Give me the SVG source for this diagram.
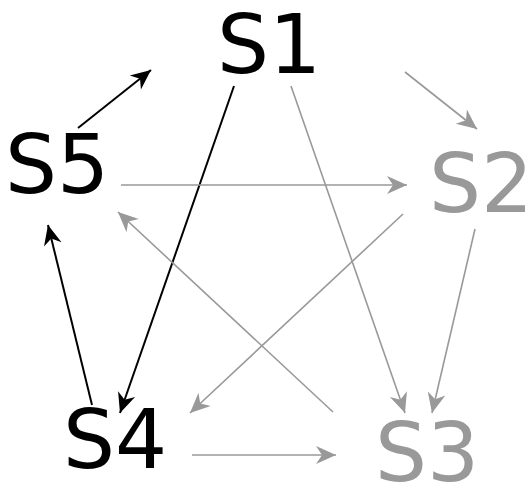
<svg xmlns="http://www.w3.org/2000/svg" width="528" height="487" viewBox="0 0 528 487">
<style>
.lbl{font-family:"DejaVu Sans",sans-serif;font-size:82px;text-anchor:middle}
.blk{fill:#000}
.gry{fill:#999}
.eb{stroke:#000;stroke-width:2;fill:none}
.eg{stroke:#999;stroke-width:1.6;fill:none}
</style>
<defs>
<marker id="ab" markerUnits="userSpaceOnUse" markerWidth="26" markerHeight="22" viewBox="-22 -11 26 22" refX="0" refY="0" orient="auto">
<path d="M0,0 L-20,-9 L-14,0 L-20,9 Z" fill="#000"/>
</marker>
<marker id="ag" markerUnits="userSpaceOnUse" markerWidth="26" markerHeight="22" viewBox="-22 -11 26 22" refX="0" refY="0" orient="auto">
<path d="M0,0 L-20,-9 L-14,0 L-20,9 Z" fill="#999"/>
</marker>
</defs>
<g id="connectors">
<line class="eb" x1="78" y1="128" x2="151" y2="70" marker-end="url(#ab)"/>
<line class="eb" x1="234" y1="86" x2="120" y2="413" marker-end="url(#ab)"/>
<line class="eb" x1="92" y1="405" x2="48" y2="225" marker-end="url(#ab)"/>
<line class="eg" x1="405" y1="72" x2="477" y2="129" marker-end="url(#ag)"/>
<line class="eg" x1="121" y1="185" x2="407" y2="185" marker-end="url(#ag)"/>
<line class="eg" x1="291" y1="86" x2="405" y2="413" marker-end="url(#ag)"/>
<line class="eg" x1="475" y1="229" x2="432" y2="413" marker-end="url(#ag)"/>
<line class="eg" x1="403" y1="214" x2="190" y2="413" marker-end="url(#ag)"/>
<line class="eg" x1="333" y1="412" x2="118" y2="212" marker-end="url(#ag)"/>
<line class="eg" x1="192" y1="455" x2="336" y2="455" marker-end="url(#ag)"/>
</g>
<g id="S1"><text class="lbl blk" x="269" y="73">S1</text></g>
<g id="S2"><text class="lbl gry" x="481" y="212">S2</text></g>
<g id="S3"><text class="lbl gry" x="427" y="481">S3</text></g>
<g id="S4"><text class="lbl blk" x="115" y="468">S4</text></g>
<g id="S5"><text class="lbl blk" x="57" y="193">S5</text></g>
</svg>
